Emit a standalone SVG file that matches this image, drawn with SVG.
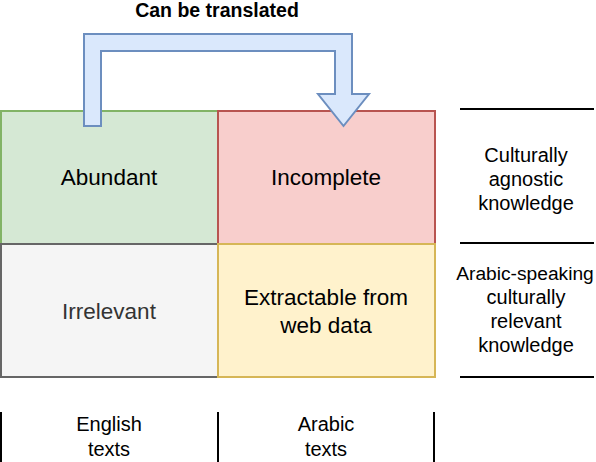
<svg xmlns="http://www.w3.org/2000/svg" width="596" height="462" viewBox="0 0 596 462">
<style>
text{font-family:"Liberation Sans",Arial,Helvetica,sans-serif;fill:#000;text-anchor:middle}
.big{font-size:22.5px}
.med{font-size:20px}
.rule{stroke:#000;stroke-width:2;fill:none}
</style>
<rect width="596" height="462" fill="#ffffff"/>
<g id="abundant">
<rect x="1" y="111" width="217" height="133" fill="#d5e8d4" stroke="#82b366" stroke-width="2"/>
<text class="big" x="109" y="185">Abundant</text>
</g>
<g id="incomplete">
<rect x="218" y="111" width="217" height="133" fill="#f8cecc" stroke="#b85450" stroke-width="2"/>
<text class="big" x="326" y="185">Incomplete</text>
</g>
<g id="irrelevant">
<rect x="1" y="244" width="217" height="133" fill="#f5f5f5" stroke="#666666" stroke-width="2"/>
<text class="big" x="109" y="319" style="fill:#333333">Irrelevant</text>
</g>
<g id="extractable">
<rect x="218" y="244" width="217" height="133" fill="#fff2cc" stroke="#d6b656" stroke-width="2"/>
<text class="big" x="326" y="305">Extractable from</text>
<text class="big" x="326" y="333">web data</text>
</g>
<g id="connectors">
<path d="M84,126 L84,34 L352,34 L352,94 L369,94 L343.5,126 L318,94 L335,94 L335,51 L101,51 L101,126 Z" fill="#dae8fc" stroke="#6c8ebf" stroke-width="2" stroke-linejoin="miter"/>
<text x="217" y="17" style="font-size:19.5px;font-weight:bold">Can be translated</text>
</g>
<g id="knowledge-labels">
<line class="rule" x1="460" y1="109" x2="594" y2="109"/>
<line class="rule" x1="460" y1="243" x2="594" y2="243"/>
<line class="rule" x1="460" y1="377" x2="594" y2="377"/>
<text class="med" x="526" y="162">Culturally</text>
<text class="med" x="526" y="186">agnostic</text>
<text class="med" x="526" y="210">knowledge</text>
<text class="med" x="525" y="280" style="font-size:19.2px">Arabic-speaking</text>
<text class="med" x="526" y="304">culturally</text>
<text class="med" x="526" y="328">relevant</text>
<text class="med" x="526" y="352">knowledge</text>
</g>
<g id="language-labels">
<line class="rule" x1="1" y1="412" x2="1" y2="462"/>
<line class="rule" x1="218" y1="412" x2="218" y2="462"/>
<line class="rule" x1="434" y1="412" x2="434" y2="462"/>
<text class="med" x="109" y="431">English</text>
<text class="med" x="109" y="456">texts</text>
<text class="med" x="326" y="431">Arabic</text>
<text class="med" x="326" y="456">texts</text>
</g>
</svg>
